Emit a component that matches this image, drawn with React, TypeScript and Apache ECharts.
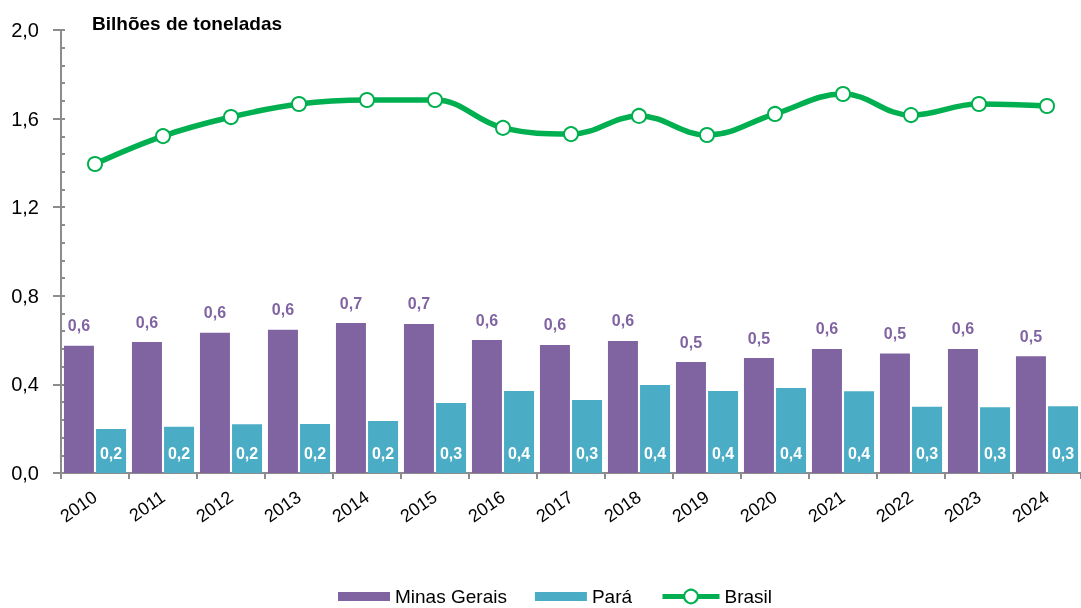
import React, { useEffect, useRef } from "react";
import * as echarts from "echarts";

const years = ["2010","2011","2012","2013","2014","2015","2016","2017","2018","2019","2020","2021","2022","2023","2024"];
const minasGerais = [0.575,0.591,0.633,0.647,0.677,0.673,0.600,0.578,0.596,0.501,0.519,0.560,0.540,0.560,0.527];
const para = [0.199,0.209,0.220,0.221,0.235,0.316,0.370,0.330,0.397,0.370,0.384,0.369,0.299,0.297,0.301];
const brasil = [1.395,1.521,1.607,1.666,1.684,1.684,1.558,1.530,1.612,1.526,1.621,1.711,1.616,1.666,1.657];
const title = "Bilhões de toneladas";

const PURPLE = "#8064A2";
const TEAL = "#4BACC6";
const GREEN = "#00B050";
const AXIS = "#8c8c8c";
const FONT = "'Liberation Sans', Arial, sans-serif";

const fmt = (v: number) => v.toFixed(1).replace(".", ",");

export default function App() {
  const ref = useRef<HTMLDivElement>(null);
  useEffect(() => {
    const chart = echarts.init(ref.current!, null, { renderer: "svg" });
    chart.setOption({
      animation: false,
      textStyle: { fontFamily: FONT },
      grid: { left: 61, top: 30, width: 1026, height: 443 },
      graphic: [
        {
          type: "text",
          left: 92,
          top: 14,
          style: { text: title, font: `bold 19px ${FONT}`, fill: "#000" },
        },
      ],
      legend: [
        {
          left: 338,
          top: 587,
          itemWidth: 52,
          itemHeight: 9,
          itemGap: 28,
          padding: 0,
          textStyle: { fontSize: 19, color: "#000", fontFamily: FONT },
          data: [
            { name: "Minas Gerais", icon: "rect" },
            { name: "Pará", icon: "rect" },
          ],
        },
        {
          left: 660,
          top: 587,
          itemWidth: 57,
          itemHeight: 17,
          padding: 0,
          textStyle: { fontSize: 19, color: "#000", fontFamily: FONT },
          lineStyle: { width: 5, color: GREEN },
          itemStyle: { color: "#fff", borderColor: GREEN, borderWidth: 2 },
          data: [{ name: "Brasil" }],
        },
      ],
      xAxis: {
        type: "category",
        data: years,
        boundaryGap: true,
        axisLine: { lineStyle: { color: AXIS, width: 2 } },
        axisTick: { show: true, length: 6, lineStyle: { color: AXIS, width: 2 } },
        axisLabel: { rotate: 35, fontSize: 18, color: "#000", margin: 22, fontFamily: FONT },
      },
      yAxis: [
        {
          type: "value",
          min: 0,
          max: 2,
          interval: 0.4,
          axisLine: { show: true, lineStyle: { color: AXIS, width: 2 } },
          axisTick: { show: true, length: 8, lineStyle: { color: AXIS, width: 2 } },
          splitLine: { show: false },
          axisLabel: { formatter: (v: number) => fmt(v), fontSize: 20, color: "#000", margin: 22, fontFamily: FONT },
        },
        {
          type: "value",
          min: 0,
          max: 2,
          interval: 0.4,
          position: "left",
          axisLine: { show: false },
          axisTick: { show: true, inside: true, length: 4, lineStyle: { color: AXIS, width: 2 } },
          minorTick: { show: true, splitNumber: 5, length: 4, lineStyle: { color: AXIS, width: 2 } },
          splitLine: { show: false },
          axisLabel: { show: false },
        },
      ],
      series: [
        {
          name: "Minas Gerais",
          type: "bar",
          data: minasGerais,
          barWidth: 30,
          barGap: "7%",
          itemStyle: { color: PURPLE },
          label: {
            show: true,
            position: "top",
            distance: 12,
            formatter: (p: any) => fmt(p.value),
            color: PURPLE,
            fontWeight: "bold",
            fontSize: 16,
            fontFamily: FONT,
          },
        },
        {
          name: "Pará",
          type: "bar",
          data: para,
          barWidth: 30,
          itemStyle: { color: TEAL },
          label: {
            show: true,
            position: "insideBottom",
            distance: 12,
            formatter: (p: any) => fmt(p.value),
            color: "#fff",
            fontWeight: "bold",
            fontSize: 16,
            fontFamily: FONT,
          },
        },
        {
          name: "Brasil",
          type: "line",
          data: brasil,
          smooth: 0.4,
          symbol: "circle",
          symbolSize: 14,
          lineStyle: { color: GREEN, width: 5.5 },
          itemStyle: { color: "#fff", borderColor: GREEN, borderWidth: 2 },
          z: 5,
        },
      ],
    });
    return () => chart.dispose();
  }, []);
  return (
    <div
      ref={ref}
      style={{ position: "fixed", left: 0, top: 0, width: 1081, height: 608 }}
    />
  );
}
